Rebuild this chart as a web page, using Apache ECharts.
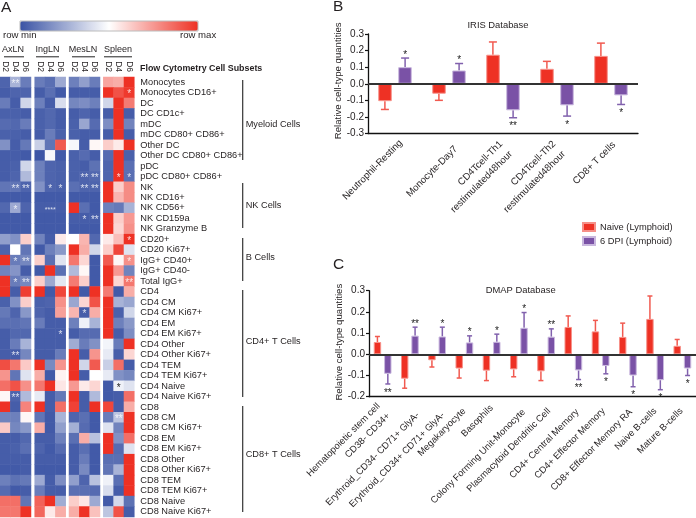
<!DOCTYPE html>
<html><head><meta charset="utf-8">
<style>html,body{margin:0;padding:0;background:#fff}#c{width:696px;height:518px}</style>
<script src="https://cdn.jsdelivr.net/npm/echarts@6/dist/echarts.min.js"></script>
</head><body><div id="c"></div>
<script>
const FONT = '"Liberation Sans", Arial, sans-serif';
const days = ['D2','D4','D6'];
const tissues = ['AxLN','IngLN','MesLN','Spleen'];
const rows = ['Monocytes','Monocytes CD16+','DC','DC CD1c+','mDC','mDC CD80+ CD86+','Other DC','Other DC CD80+ CD86+','pDC','pDC CD80+ CD86+','NK','NK CD16+','NK CD56+','NK CD159a','NK Granzyme B','CD20+','CD20 Ki67+','IgG+ CD40+','IgG+ CD40-','Total IgG+','CD4','CD4 CM','CD4 CM Ki67+','CD4 EM','CD4 EM Ki67+','CD4 Other','CD4 Other Ki67+','CD4 TEM','CD4 TEM Ki67+','CD4 Naive','CD4 Naive Ki67+','CD8','CD8 CM','CD8 CM Ki67+','CD8 EM','CD8 EM Ki67+','CD8 Other','CD8 Other Ki67+','CD8 TEM','CD8 TEM Ki67+','CD8 Naive','CD8 Naive Ki67+'];
const axln = [[.05,.28,.12],[.03,.05,.05],[.12,.03,.38],[.04,.04,.03],[.07,.06,.12],[.04,.04,.03],[.18,.03,.11],[.03,.03,.02],[.03,.04,.38],[.03,.05,.30],[.10,.10,.05],[.02,.02,.02],[.06,.25,.05],[.02,.02,.02],[.02,.02,.02],[.22,.18,.62],[.05,.50,.10],[1,.12,.15],[.14,.19,.03],[1,.12,.15],[1,.03,.97],[.04,.18,.62],[.11,.05,.20],[.08,.08,.10],[.03,.06,.06],[.03,.12,.28],[.03,.03,.15],[.93,.83,.63],[.76,.10,.42],[.85,.92,.77],[.52,.05,.30],[1,.03,.80],[.14,.13,.52],[.63,.15,.20],[.03,.03,.06],[.03,.04,.08],[.03,.03,.03],[.02,.02,.03],[.13,.09,.11],[.07,.02,.03],[.85,.85,.10],[.83,.83,1]];
const ingln = [[.12,.08,.25],[.03,.08,.02],[.13,.03,.40],[.04,.06,.03],[.04,.06,.03],[.03,.12,.04],[.36,.10,.90],[.01,.48,.02],[.13,.05,.04],[.13,.05,.04],[.18,.05,.04],[.02,.02,.02],[.03,.03,.03],[.02,.02,.02],[.02,.02,.02],[.14,.03,.55],[.02,.13,.20],[.62,.08,.42],[.02,1,.08],[.62,.25,.43],[1,.02,.95],[.04,.05,.77],[.05,.03,.73],[.12,.03,.03],[.03,.03,.03],[.03,.03,.03],[.03,.03,.12],[1,.16,.76],[.70,.02,.53],[.83,1,.56],[.44,.03,.11],[1,.03,.85],[.10,.02,.28],[.70,.02,.22],[.03,.03,.13],[.05,.02,.07],[.03,.03,.03],[.02,.02,.02],[.25,.03,.17],[.12,.03,.03],[.88,1,.26],[.87,.55,.70]];
const mesln = [[.13,.22,.12],[.03,.03,.03],[.15,.17,.13],[.03,.05,.03],[.04,.24,.07],[.04,.03,.03],[.48,.03,.52],[.04,.07,.03],[.04,.03,.09],[.04,.05,.06],[.08,.05,.05],[.02,.02,.02],[1,.08,.02],[.03,.03,.03],[.02,.02,.02],[.50,.68,.06],[1,.70,.38],[.83,.60,.02],[.30,.52,.02],[.82,.62,.02],[1,.02,1],[.24,.60,.92],[.68,.03,.70],[.13,.46,.28],[.03,.07,.07],[.26,.12,.18],[1,.03,.76],[1,.38,.90],[1,.03,.50],[.75,.55,.60],[1,.03,.30],[.96,.03,1],[.05,.08,.02],[.27,.07,.02],[.08,.70,.32],[.03,.08,.02],[.03,.12,.02],[.03,.16,.02],[.22,.05,.32],[.08,.08,.07],[.62,.56,.25],[.70,1,.65]];
const spleen = [[.72,.70,1],[1,.92,.98],[.38,1,.82],[.03,1,.03],[.17,1,.14],[.03,1,.03],[.62,.55,1],[.07,1,.04],[.05,1,.08],[.05,1,.08],[1,.62,.78],[1,.68,.78],[.13,.11,.28],[1,.62,.75],[1,.60,.77],[.55,.66,1],[.62,.95,.42],[.90,.52,.77],[1,.75,.14],[1,.60,.83],[.82,.02,.70],[1,.28,.24],[1,.04,.38],[1,.13,.20],[1,.03,.17],[.47,.12,1],[.44,.03,.60],[.36,.85,.03],[.44,.18,.15],[.02,.46,.42],[.02,.03,.85],[.95,.03,.70],[.12,.33,1],[.42,.14,1],[1,.18,.85],[1,.07,.42],[.08,.08,1],[.10,.28,1],[.46,.08,1],[.40,.03,1],[.02,.39,.09],[.33,.92,.03]];
const heatBlocks = [axln, ingln, mesln, spleen];
// [block, day, row, text]
const heatStars = [[0,1,0,'**'],[3,2,1,'*'],[2,1,9,'**'],[2,2,9,'**'],[3,1,9,'*'],[3,2,9,'*'],[0,1,10,'**'],[0,2,10,'**'],[1,1,10,'*'],[1,2,10,'*'],[2,1,10,'**'],[2,2,10,'**'],[0,1,12,'*'],[1,1,12,'****'],[2,1,13,'*'],[2,2,13,'**'],[3,2,15,'*'],[0,1,17,'*'],[0,2,17,'**'],[3,2,17,'*'],[0,1,19,'*'],[0,2,19,'**'],[3,2,19,'**'],[2,1,22,'*'],[1,2,24,'*'],[0,1,26,'**'],[3,1,29,'*'],[0,1,30,'**'],[3,1,32,'**']];
const darkStars = ['3,1,29'];

const irisCats = ['Neutrophil-Resting','Monocyte-Day7','CD4Tcell-Th1\nrestimulated48hour','CD4Tcell-Th2\nrestimulated48hour','CD8+ T cells'];
const irisNaive = [-0.105,-0.06,0.175,0.09,0.168];
const irisNaiveErr = [-0.155,-0.10,0.252,0.135,0.245];
const irisDpi = [0.10,0.08,-0.16,-0.13,-0.07];
const irisDpiErr = [0.155,0.122,-0.205,-0.195,-0.125];
const irisDpiStars = ['*','*','**','*','*'];

const dmapCats = ['Hematopoietic stem cell\nCD38- CD34+','Erythroid_CD34- CD71+ GlyA-','Erythroid_CD34+ CD71+ GlyA-','Megakaryocyte','Basophils','Colony Forming Unit-Monocyte','Plasmacytoid Dendritic Cell','CD4+ Central Memory','CD4+ Effector Memory','CD8+ Effector Memory RA','Naive B-cells','Mature B-cells'];
const dmapNaive = [0.058,-0.115,-0.028,-0.067,-0.077,-0.071,-0.08,0.129,0.108,0.082,0.167,0.04];
const dmapNaiveErr = [0.084,-0.16,-0.06,-0.112,-0.124,-0.106,-0.124,0.181,0.16,0.147,0.275,0.07];
const dmapDpi = [-0.092,0.088,0.084,0.056,0.059,0.125,0.083,-0.076,-0.055,-0.10,-0.122,-0.067];
const dmapDpiErr = [-0.14,0.128,0.128,0.087,0.095,0.197,0.12,-0.119,-0.092,-0.153,-0.167,-0.10];
const dmapDpiStars = ['**','**','*','*','*','*','**','**','*','*','*','*'];

const RED='#ee3124', PURPLE='#7a52a6', BLUE='#3a53a4', TXT='#231f20';
const irisNudge=[[6,1],[7,7],[3,7],[2,7],[3,3]];
const dmapNudge=[[1,6],[8,10],[6,10],[0,6],[0,3],[5,7],[3,6],[4,7],[3,6],[3,7],[0,6],[-1,6]];
const grids=[], xAxes=[], yAxes=[], series=[], graphic=[];
const heatLefts=[0,34.7,69,103.3];
const heatTop=77, heatH=440, heatW=31;
heatBlocks.forEach((block,b)=>{
  grids.push({left:heatLefts[b],top:heatTop,width:heatW,height:heatH});
  xAxes.push({type:'category',gridIndex:b,data:days,position:'top',axisLine:{show:false},axisTick:{show:false},
    axisLabel:{rotate:90,fontSize:8.5,margin:5,color:TXT,fontFamily:FONT,interval:0}});
  yAxes.push({type:'category',gridIndex:b,data:rows,inverse:true,position:'right',axisLine:{show:false},axisTick:{show:false},
    axisLabel:{show:b===3,interval:0,fontSize:9.25,margin:6,color:TXT,fontFamily:FONT}});
  const data=[];
  block.forEach((r,ri)=>r.forEach((v,d)=>{
    const st=heatStars.find(s=>s[0]===b&&s[1]===d&&s[2]===ri);
    const item={value:[d,ri,v]};
    if(st){
      const dark=darkStars.includes(st.slice(0,3).join(','));
      item.label={show:true,formatter:st[3],fontSize:st[3]==='****'?7:10,fontFamily:FONT,offset:[0,2],
        color:dark?'#222':'rgba(255,255,255,0.8)'};
    }
    data.push(item);
  }));
  series.push({type:'heatmap',xAxisIndex:b,yAxisIndex:b,data,label:{show:false},progressive:0,silent:true});
});

function barPanel(ix,cfg){
  grids.push({left:cfg.left,top:cfg.top,width:cfg.width,height:cfg.height});
  const catData=cfg.cats.map((c,i)=>{
    const [dx,dy]=cfg.nudge[i];
    const a=(dx-dy)/1.414,b=(dx+dy)/1.414;
    const n=c.split('\n').length;
    return {value:c,textStyle:{verticalAlign:'top',padding:[b-7*n,-a,0,0]}};
  });
  xAxes.push({type:'category',gridIndex:ix,data:catData,position:'bottom',
    axisLine:{onZero:false,lineStyle:{color:'#111',width:1.3}},
    axisTick:{alignWithLabel:true,length:3,lineStyle:{color:'#111',width:1.2}},
    axisLabel:{rotate:45,interval:0,fontSize:cfg.labelSize,lineHeight:14,margin:7,color:TXT,fontFamily:FONT}});
  yAxes.push({type:'value',gridIndex:ix,min:cfg.min,max:cfg.max,interval:0.1,
    name:'Relative cell-type quantities',nameLocation:'middle',nameGap:cfg.nameGap,
    nameTextStyle:{fontSize:9.6,color:TXT,fontFamily:FONT,padding:[0,0,0,cfg.namePad]},
    axisLine:{show:true,lineStyle:{color:'#111',width:1.3}},
    axisTick:{show:true,length:3,lineStyle:{color:'#111',width:1.2}},splitLine:{show:false},
    axisLabel:{fontSize:10,margin:4,color:TXT,fontFamily:FONT,formatter:v=>v.toFixed(1)}});
  const bar=(name,vals,color,border,z)=>({type:'bar',name,xAxisIndex:ix,yAxisIndex:ix,data:vals,
    barWidth:cfg.barWidth,barGap:cfg.barGap,z,
    itemStyle:{color,borderColor:border,borderWidth:1}});
  const b1=bar('Naive (Lymphoid)',cfg.naive,RED,'#f69088',2);
  b1.markLine={silent:true,symbol:'none',label:{show:false},animation:false,lineStyle:{color:'#333',width:1.8,type:'solid'},data:[{yAxis:0}],z:5};
  series.push(b1, bar('6 DPI (Lymphoid)',cfg.dpi,PURPLE,'#c9b8de',2));
  const err=(vals,ends,offset,color,stars)=>({type:'custom',xAxisIndex:ix,yAxisIndex:ix,silent:true,z:1,
    data:vals.map((v,i)=>[i,v,ends[i]]),
    encode:{x:0,y:[1,2]},
    renderItem:(p,api)=>{
      const i=api.value(0),a=api.coord([i,api.value(1)]),e=api.coord([i,api.value(2)]);
      const x=a[0]+offset,cap=cfg.cap;
      const st={stroke:color,lineWidth:1.5};
      const ch=[{type:'line',shape:{x1:x,y1:a[1],x2:x,y2:e[1]},style:st},
        {type:'line',shape:{x1:x-cap,y1:e[1],x2:x+cap,y2:e[1]},style:st}];
      if(stars&&stars[i]){
        const up=api.value(2)>0;
        ch.push({type:'text',style:{text:stars[i],x,y:e[1]+(up?1.8:13.8),align:'center',verticalAlign:'bottom',
          font:'10px '+FONT,fill:'#222'}});
      }
      return {type:'group',children:ch};
    }});
  series.push(err(cfg.naive,cfg.naiveErr,-cfg.off,'#f15a50',null), err(cfg.dpi,cfg.dpiErr,cfg.off,'#8161ad',cfg.stars));
}
barPanel(4,{left:368,top:34,width:270,height:99.5,cats:irisCats,nudge:irisNudge,labelSize:9.7,min:-0.3,max:0.3,barWidth:13.5,barGap:'48%',cap:4,off:10.1,nameGap:23,namePad:6,
  naive:irisNaive,naiveErr:irisNaiveErr,dpi:irisDpi,dpiErr:irisDpiErr,stars:irisDpiStars});
barPanel(5,{left:369,top:290.7,width:327,height:106,cats:dmapCats,nudge:dmapNudge,labelSize:9.4,min:-0.2,max:0.3,barWidth:7.4,barGap:'40%',cap:2.5,off:5.2,nameGap:25,namePad:3,
  naive:dmapNaive,naiveErr:dmapNaiveErr,dpi:dmapDpi,dpiErr:dmapDpiErr,stars:dmapDpiStars});

function txt(text,x,y,size,opt){graphic.push({type:'text',silent:true,style:Object.assign({text,x,y,font:size+'px '+FONT,fill:TXT,verticalAlign:'middle'},opt||{})});}
function line(x1,y1,x2,y2,w,c){graphic.push({type:'line',silent:true,shape:{x1,y1,x2,y2},style:{stroke:c||'#333',lineWidth:w||1.2}});}
txt('A',1,8,15.5); txt('B',333,7,15.5); txt('C',333,265,15.5);
graphic.push({type:'rect',silent:true,z:10,shape:{x:20,y:21,width:178,height:10},style:{fill:'none',stroke:'#bcbcbc',lineWidth:1}});
txt('row min',3,35.5,9.6); txt('row max',180,35.5,9.6);
const hdr=[[13,4,24],[47.5,36,59],[83,72,95],[118,104,132]];
tissues.forEach((t,i)=>{txt(t,hdr[i][0],50,9,{align:'center'});line(hdr[i][1],56.8,hdr[i][2],56.8,1,'#222');});
txt('Flow Cytometry Cell Subsets',140,68.3,8.9,{font:'bold 8.9px '+FONT});
[['Myeloid Cells',80,160,124],['NK Cells',183,228,205],['B Cells',238,281,257],['CD4+ T Cells',290,397,341],['CD8+ T Cells',406,512,454]]
 .forEach(g=>{line(242.7,g[1],242.7,g[2],1.2,'#333');txt(g[0],245.7,g[3],9.2);});
txt('IRIS Database',498,25,9.4,{align:'center'});
txt('DMAP Database',520.7,290,9.4,{align:'center'});

const chart=echarts.init(document.getElementById('c'),null,{renderer:'canvas'});
chart.setOption({
  animation:false,backgroundColor:'#fff',
  textStyle:{fontFamily:FONT},
  grid:grids,xAxis:xAxes,yAxis:yAxes,series,graphic,
  tooltip:{show:false},
  visualMap:{type:'continuous',min:0,max:1,dimension:2,seriesIndex:[0,1,2,3],orient:'horizontal',
    left:20,top:21,itemWidth:10,itemHeight:178,text:null,showLabel:false,calculable:false,realtime:false,
    inRange:{color:[BLUE,'#ffffff',RED]},padding:0},
  legend:{data:['Naive (Lymphoid)','6 DPI (Lymphoid)'],orient:'vertical',left:582,top:222,padding:0,itemWidth:12,itemHeight:8,itemGap:4,
    icon:'rect',textStyle:{fontSize:9.3,color:TXT,fontFamily:FONT},selectedMode:false}
});
</script></body></html>
